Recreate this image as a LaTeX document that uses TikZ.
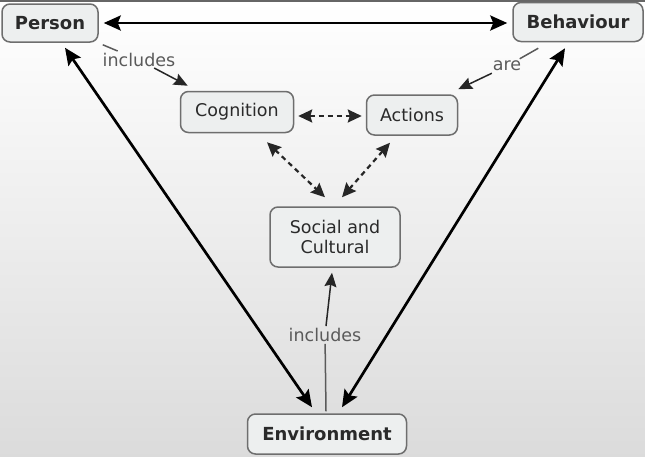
\documentclass[tikz,border=0pt]{standalone}
\usepackage{fontspec}
\setmainfont{DejaVu Sans}
\usetikzlibrary{arrows.meta,calc}
\definecolor{boxfill}{HTML}{EDEFEF}
\definecolor{boxline}{HTML}{6E6E6E}
\definecolor{txt}{HTML}{2A2A2A}
\definecolor{lab}{HTML}{5A5A5A}
\tikzset{
  concept/.style={draw=boxline, line width=1.5pt, fill=boxfill, rounded corners=8pt,
    inner sep=0pt, text=txt, font=\fontsize{17.5}{20}\selectfont, align=center},
  mainbox/.style={concept, font=\fontsize{18}{20}\selectfont\bfseries},
  bigarrow/.style={line width=2.7pt, black, {Stealth[length=17pt,width=15pt,inset=3pt]}-{Stealth[length=17pt,width=15pt,inset=3pt]}},
  dasharrow/.style={line width=2.2pt, black!85, dash pattern=on 5pt off 4pt,
    {Stealth[length=14pt,width=13pt,inset=2pt]}-{Stealth[length=14pt,width=13pt,inset=2pt]}},
  thinline/.style={line width=1.5pt, lab},
  thinarrow/.style={thinline, -{Stealth[length=14pt,width=12pt,inset=2pt]}, black!85},
  linklabel/.style={text=lab, font=\fontsize{17.5}{20}\selectfont, inner sep=2pt},
}
\begin{document}
\begin{tikzpicture}[x=1pt,y=-1pt]
\useasboundingbox (0,0) rectangle (645,456);
\shade[top color=white, bottom color=black!14] (0,0) rectangle (645,456);
\fill[black!60] (0,0) rectangle (645,1.5);

% nodes
\node[mainbox, minimum width=96pt, minimum height=38pt] (P) at (50,23) {Person};
\node[mainbox, minimum width=130pt, minimum height=39pt] (B) at (578,22) {Behaviour};
\node[mainbox, minimum width=159pt, minimum height=40pt] (E) at (327,434) {Environment};
\node[concept, minimum width=113pt, minimum height=41pt] (C) at (237,112) {Cognition};
\node[concept, minimum width=91pt, minimum height=40pt] (A) at (412,115) {Actions};
\node[concept, minimum width=130pt, minimum height=60pt] (S) at (335,237) {Social and\\Cultural};

% link labels
\node[linklabel] (l1) at (139,60) {includes};
\node[linklabel] (l2) at (507,66) {are};
\node[linklabel] (l3) at (325,335) {includes};

% big arrows
\draw[bigarrow, shorten <=5pt, shorten >=5pt] ($(P.east)+(0,0)$) -- ($(B.west)+(0,1)$);
\draw[bigarrow] ($(P.south)+(15,5)$) -- ($(E.north)+(-15,-6)$);
\draw[bigarrow] ($(B.south)+(-13,6)$) -- ($(E.north)+(15,-6)$);

% dashed arrows
\draw[dasharrow] ($(C.east)+(4,4)$) -- ($(A.west)+(-4,1)$);
\draw[dasharrow] ($(C.south)+(30,9)$) -- ($(S.north)+(-10,-9)$);
\draw[dasharrow] ($(A.south)+(-22,7)$) -- ($(S.north)+(7,-9)$);

% labelled links
\draw[thinline] ($(P.south east)+(4,2)$) -- (l1);
\draw[thinarrow, shorten <=-2pt] (l1) -- ($(C.north west)+(8,-5)$);
\draw[thinline, shorten <=2pt] ($(B.south)+(-38,5)$) -- (l2);
\draw[thinarrow] (l2) -- ($(A.north east)+(0,-5)$);
\draw[thinline] ($(E.north)+(-1,-2)$) -- (l3);
\draw[thinarrow] (l3) -- ($(S.south)+(-3,5)$);
\end{tikzpicture}
\end{document}
